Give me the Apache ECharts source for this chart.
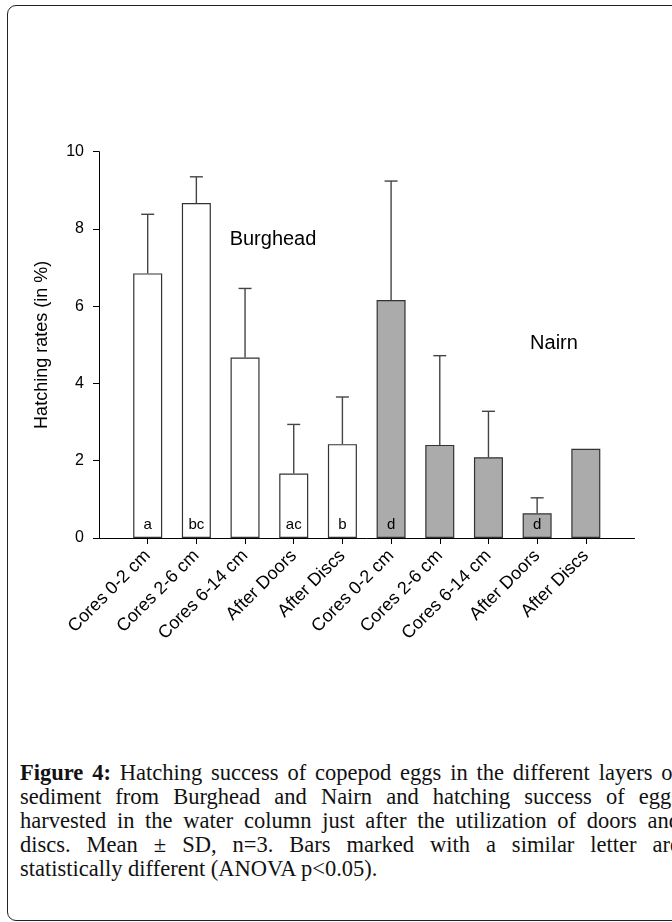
<!DOCTYPE html>
<html>
<head>
<meta charset="utf-8">
<script src="https://cdn.jsdelivr.net/npm/echarts@6/dist/echarts.min.js"></script>
<style>
  html, body { margin: 0; padding: 0; width: 672px; height: 922px; overflow: hidden; background: #fff; }
  #frame { position: absolute; left: 7px; top: 5px; width: 720px; height: 916px; border: 1.5px solid #222; border-radius: 9px; box-sizing: border-box; }
  #chart { position: absolute; left: 0; top: 0; width: 672px; height: 720px; }
  #caption { position: absolute; left: 20px; top: 761px; width: 660px; font-family: "Liberation Serif", "Times New Roman", serif; font-size: 22.5px; line-height: 24px; color: #111; }
  #caption .j { text-align: justify; text-align-last: justify; }
</style>
</head>
<body>
<div id="frame"></div>
<div id="chart"></div>
<div id="caption">
  <div class="j"><b>Figure 4:</b> Hatching success of copepod eggs in the different layers of</div>
  <div class="j">sediment from Burghead and Nairn and hatching success of eggs</div>
  <div class="j">harvested in the water column just after the utilization of doors and</div>
  <div class="j">discs. Mean ± SD, n=3. Bars marked with a similar letter are</div>
  <div>statistically different (ANOVA p&lt;0.05).</div>
</div>
<script>
// hatching rates (%) - first five Burghead, last five Nairn
var categories = ['Cores 0-2 cm', 'Cores 2-6 cm', 'Cores 6-14 cm', 'After Doors', 'After Discs',
                  'Cores 0-2 cm', 'Cores 2-6 cm', 'Cores 6-14 cm', 'After Doors', 'After Discs']
var sites = ['Burghead', 'Burghead', 'Burghead', 'Burghead', 'Burghead',
             'Nairn', 'Nairn', 'Nairn', 'Nairn', 'Nairn']
var means = [6.85, 8.67, 4.67, 1.67, 2.43, 6.16, 2.41, 2.09, 0.64, 2.31]
var sds = [1.53, 0.68, 1.79, 1.27, 1.22, 3.08, 2.31, 1.19, 0.40, null]
var letters = ['a', 'bc', '', 'ac', 'b', 'd', '', '', 'd', '']
var yTicks = [0, 2, 4, 6, 8, 10]

var siteColor = { Burghead: '#ffffff', Nairn: '#ababab' }
var font = '"Liberation Sans", Arial, Helvetica, sans-serif'

// pad one empty slot each side so bars sit one step in from the axis ends
var axisData = [''].concat(categories, [''])

var barData = ['-'].concat(means.map(function(v, i) {
  return {
    value: v,
    itemStyle: { color: siteColor[sites[i]] },
    label: { show: !!letters[i], formatter: letters[i] }
  }
}), ['-'])

var errData = []
means.forEach(function(v, i) {
  if (sds[i] != null) errData.push([i + 1, v, v + sds[i]])
})

var chart = echarts.init(document.getElementById('chart'))
chart.setOption({
  animation: false,
  textStyle: { fontFamily: font },
  grid: { left: 99, right: 37.5, top: 151.7, height: 386.3 },
  xAxis: {
    type: 'category',
    data: axisData,
    boundaryGap: false,
    axisLine: { lineStyle: { color: '#000', width: 1 } },
    axisTick: {
      length: 6,
      lineStyle: { color: '#000' },
      interval: function(idx) { return idx > 0 && idx < axisData.length - 1 }
    },
    axisLabel: { interval: 0, rotate: 45, margin: 15, fontSize: 18, color: '#000', fontFamily: font },
    splitLine: { show: false }
  },
  yAxis: {
    type: 'value',
    min: yTicks[0],
    max: yTicks[yTicks.length - 1],
    interval: 2,
    name: 'Hatching rates (in %)',
    nameLocation: 'middle',
    nameGap: 48,
    nameTextStyle: { fontSize: 18, color: '#000', fontFamily: font },
    axisLine: { show: true, lineStyle: { color: '#000', width: 1 } },
    axisTick: { show: true, length: 6, lineStyle: { color: '#000' } },
    axisLabel: { fontSize: 16, color: '#000', margin: 15, fontFamily: font },
    splitLine: { show: false }
  },
  graphic: [
    { type: 'text', style: { text: 'Burghead', x: 273, y: 239, align: 'center', verticalAlign: 'middle', font: '20px ' + font, fill: '#000' } },
    { type: 'text', style: { text: 'Nairn', x: 554, y: 343, align: 'center', verticalAlign: 'middle', font: '20px ' + font, fill: '#000' } }
  ],
  series: [
    {
      type: 'bar',
      data: barData,
      barWidth: 29,
      itemStyle: { borderColor: '#333', borderWidth: 1.2 },
      label: { position: 'insideBottom', distance: 6, fontSize: 15, color: '#000', fontFamily: font }
    },
    {
      type: 'custom',
      data: errData,
      z: 3,
      renderItem: function(params, api) {
        var top = api.coord([api.value(0), api.value(2)])
        var base = api.coord([api.value(0), api.value(1)])
        var cap = 6.5
        var st = { stroke: '#444', lineWidth: 1.4 }
        return {
          type: 'group',
          children: [
            { type: 'line', shape: { x1: base[0], y1: base[1], x2: top[0], y2: top[1] }, style: st },
            { type: 'line', shape: { x1: top[0] - cap, y1: top[1], x2: top[0] + cap, y2: top[1] }, style: st }
          ]
        }
      }
    }
  ]
})
</script>
</body>
</html>
